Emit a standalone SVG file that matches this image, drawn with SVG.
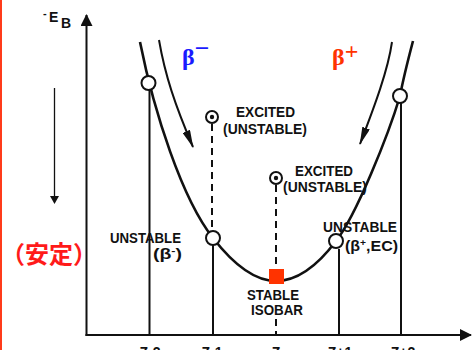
<svg xmlns="http://www.w3.org/2000/svg" width="472" height="350" viewBox="0 0 472 350">
<style>
.ln{stroke:#111;stroke-width:2;fill:none}
.cv{stroke:#111;stroke-width:2.6;fill:none}
.ds{stroke:#111;stroke-width:2;fill:none;stroke-dasharray:7 5}
.oc{fill:#fff;stroke:#111;stroke-width:2}
.lb{font-family:"Liberation Sans",Arial,sans-serif;font-weight:bold;font-size:14px;fill:#111}
.gk{font-family:"Liberation Serif","Times New Roman",serif;font-weight:bold;font-size:24px}
</style>
<defs>
<marker id="ah" markerUnits="userSpaceOnUse" viewBox="0 0 18 8" refX="17" refY="4" markerWidth="18" markerHeight="8" orient="auto"><path d="M0,0 L18,4 L0,8 z" fill="#111"/></marker>
<marker id="axh" markerUnits="userSpaceOnUse" viewBox="0 0 12 12" refX="11" refY="6" markerWidth="12" markerHeight="12" orient="auto"><path d="M0,0 L12,6 L0,12 z" fill="#111"/></marker>
</defs>
<rect x="0" y="0" width="2" height="350" fill="#ff3b1a"/>
<g id="axes">
<path class="ln" d="M86.5,336 V15" marker-end="url(#axh)" stroke-width="2.2"/>
<path class="ln" d="M85.5,335 H471" marker-end="url(#axh)" stroke-width="2.2"/>
<text class="lb" x="43" y="22" style="font-size:14px"><tspan x="43" y="17" style="font-size:11px">-</tspan><tspan x="49" y="22">E</tspan><tspan x="61" y="28">B</tspan></text>
</g>
<g id="stability-arrow">
<line x1="54.5" y1="88" x2="54.5" y2="197" stroke="#111" stroke-width="1.3"/>
<path d="M50,196 L59,196 L54.5,204 z" fill="#111"/>
<text x="1" y="263" font-family="'Noto Sans CJK JP','Noto Sans CJK SC',sans-serif" font-weight="bold" font-size="24" fill="#ff1a1a">（安定）</text>
</g>
<g id="connectors">
<path class="cv" d="M140,42 C154,112 182,199 213,238 C228.5,258 251,281 276,281 C301,281 321,261 336,241 C356,216 388.5,134.5 400,96 C403,80 408,60 413,41"/>
<path class="ln" d="M159,40 C165,75 175,105 193,147" marker-end="url(#ah)"/>
<path class="ln" d="M392,42 C388,70 375,105 360,144" marker-end="url(#ah)"/>
<line class="ln" x1="149.5" y1="90" x2="149.5" y2="335"/>
<line class="ln" x1="213" y1="245" x2="213" y2="335"/>
<line class="ds" x1="212" y1="124" x2="212" y2="231"/>
<line class="ds" x1="276" y1="185" x2="276" y2="269"/>
<line class="ds" x1="276" y1="319" x2="276" y2="335"/>
<line class="ln" x1="339" y1="249" x2="339" y2="335"/>
<line class="ln" x1="401" y1="103" x2="401" y2="335"/>
</g>
<g id="beta-minus-label"><text class="gk" x="182" y="65" fill="#1a1aff">β<tspan font-size="26" dy="-8">−</tspan></text></g>
<g id="beta-plus-label"><text class="gk" x="332" y="65" fill="#ff3300">β<tspan font-size="24" dy="-6">+</tspan></text></g>
<g id="node-z-minus-2"><circle class="oc" cx="148.5" cy="83" r="7"/><text class="lb" x="150" y="357" text-anchor="middle">Z-2</text></g>
<g id="node-z-minus-1">
<circle class="oc" cx="213" cy="238" r="7"/>
<text class="lb" x="110" y="243" textLength="71" lengthAdjust="spacingAndGlyphs">UNSTABLE</text>
<text class="lb" x="153" y="259" textLength="29" lengthAdjust="spacingAndGlyphs">(β<tspan font-size="9" dy="-5">-</tspan><tspan dy="5">)</tspan></text>
<text class="lb" x="212" y="357" text-anchor="middle">Z-1</text>
</g>
<g id="excited-1">
<circle class="oc" cx="212" cy="117" r="6"/><circle cx="212" cy="117" r="2.2" fill="#111"/>
<text class="lb" x="236" y="117" textLength="59" lengthAdjust="spacingAndGlyphs">EXCITED</text>
<text class="lb" x="223" y="134" textLength="84" lengthAdjust="spacingAndGlyphs">(UNSTABLE)</text>
</g>
<g id="excited-2">
<circle class="oc" cx="276" cy="178" r="6"/><circle cx="276" cy="178" r="2.2" fill="#111"/>
<text class="lb" x="295" y="176" textLength="58" lengthAdjust="spacingAndGlyphs">EXCITED</text>
<text class="lb" x="283" y="192" textLength="84" lengthAdjust="spacingAndGlyphs">(UNSTABLE)</text>
</g>
<g id="node-z">
<rect x="269" y="269" width="15" height="15" fill="#ff3300"/>
<text class="lb" x="247" y="300" textLength="52" lengthAdjust="spacingAndGlyphs">STABLE</text>
<text class="lb" x="251" y="315" textLength="52" lengthAdjust="spacingAndGlyphs">ISOBAR</text>
<text class="lb" x="276" y="357" text-anchor="middle">Z</text>
</g>
<g id="node-z-plus-1">
<circle class="oc" cx="336" cy="241" r="7"/>
<text class="lb" x="323" y="232" textLength="74" lengthAdjust="spacingAndGlyphs">UNSTABLE</text>
<text class="lb" x="345" y="251" textLength="53" lengthAdjust="spacingAndGlyphs">(β<tspan font-size="9" dy="-5">+</tspan><tspan dy="5">,EC)</tspan></text>
<text class="lb" x="340" y="357" text-anchor="middle">Z+1</text>
</g>
<g id="node-z-plus-2">
<circle class="oc" cx="400" cy="96" r="7"/>
<text class="lb" x="403" y="357" text-anchor="middle">Z+2</text>
</g>
</svg>
